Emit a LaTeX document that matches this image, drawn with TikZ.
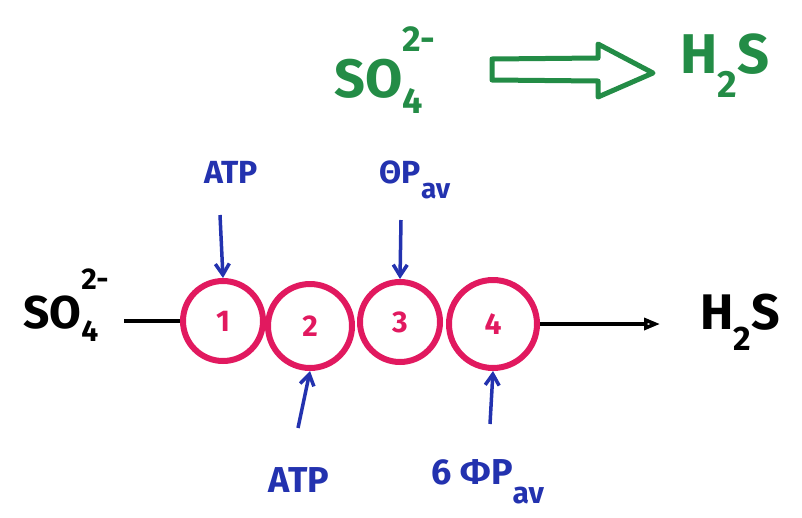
\documentclass[tikz,border=0pt]{standalone}
\usepackage{fontspec}
\setmainfont{Fira Sans}
\usetikzlibrary{arrows.meta}
\definecolor{mgreen}{RGB}{35,140,70}
\definecolor{mblue}{RGB}{35,50,175}
\definecolor{mpink}{RGB}{225,25,95}
\newcommand{\sofour}[1]{SO\rlap{\raisebox{-0.55ex}{\fontsize{#1}{#1}\selectfont 4}}\raisebox{1.6ex}{\fontsize{#1}{#1}\selectfont 2-}}
\tikzset{
  enz/.style={circle, draw=mpink, line width=6pt, text=mpink, font=\fontsize{30}{30}\selectfont\bfseries, inner sep=0pt},
  lbl/.style={text=mblue, font=\fontsize{32}{32}\selectfont\bfseries, inner sep=0pt},
  chem/.style={inner sep=0pt, font=\fontsize{44}{44}\selectfont\bfseries},
  bluearrow/.style={draw=mblue, line width=3.5pt, -{Straight Barb[length=11pt,width=14pt]}},
}
\begin{document}
\begin{tikzpicture}[x=1pt,y=-1pt]
\useasboundingbox (0,0) rectangle (802,517);
% top reaction
\node[chem, text=mgreen, font=\fontsize{54}{54}\selectfont\bfseries] (tso) at (385,70) {\sofour{36}};
\node[chem, text=mgreen, font=\fontsize{56}{56}\selectfont\bfseries] (th2s) at (725,66) {H\raisebox{-0.8ex}{\fontsize{38}{38}\selectfont 2}S};
\draw[mgreen, line width=5pt, line join=round] (492,59) -- (598,58) -- (598,44) -- (653,73) -- (598,97) -- (598,81) -- (492,80) -- cycle;
% enzymes
\node[enz, minimum size=80pt] (e1) at (223,321) {1};
\node[enz, minimum size=84pt] (e2) at (310,326) {2};
\node[enz, minimum size=80pt] (e3) at (400,322) {3};
\node[enz, minimum size=88pt] (e4) at (493,324) {4};
% left/right
\node[chem, font=\fontsize{46}{46}\selectfont\bfseries] (lso) at (66,305) {\sofour{30}};
\node[chem, font=\fontsize{50}{50}\selectfont\bfseries] (rh2s) at (740,322) {H\raisebox{-0.8ex}{\fontsize{34}{34}\selectfont 2}S};
\draw[line width=3.5pt] (e1.west) ++(-56,0) coordinate (lstart) -- (e1.west);
\draw[line width=3.5pt, -{Triangle[open, length=16pt, width=12pt]}] (e4.east) -- ++(120,0) coordinate (rend);
% blue inputs
\node[lbl] (atp1) at (231,172) {ATP};
\node[lbl] (pav1) at (415,180) {ΘP\raisebox{-0.9ex}{\fontsize{28}{28}\selectfont av}};
\node[lbl, font=\fontsize{36}{36}\selectfont\bfseries] (atp2) at (299,480) {ATP};
\node[lbl, font=\fontsize{36}{36}\selectfont\bfseries] (pav2) at (488,482) {6 ΦP\raisebox{-1ex}{\fontsize{30}{30}\selectfont av}};
\draw[bluearrow] (220,215) coordinate (a1s) -- (e1.north);
\draw[bluearrow] (401,220) coordinate (a3s) -- (e3.north);
\draw[bluearrow] (298,428) coordinate (a2s) -- (e2.south);
\draw[bluearrow] (490,424) coordinate (a4s) -- (e4.south);
\end{tikzpicture}
\end{document}
